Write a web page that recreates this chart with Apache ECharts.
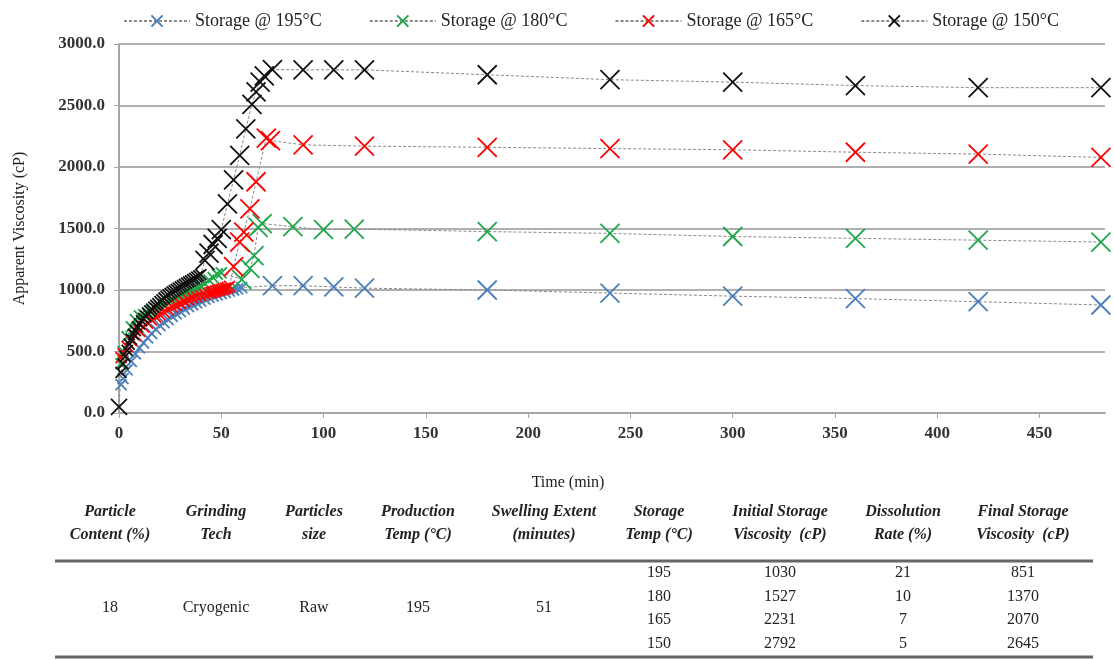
<!DOCTYPE html>
<html>
<head>
<meta charset="utf-8">
<script src="https://cdn.jsdelivr.net/npm/echarts@6/dist/echarts.min.js"></script>
<style>
  html, body { margin: 0; padding: 0; background: #fff; }
  #main { width: 1114px; height: 660px; }
</style>
</head>
<body>
<div id="main"></div>
<script>
// viscosity vs time, one pair of arrays per storage temperature
var t195 = [1,2,4,6,8,10,12,14,16,18,20,22,24,26,28,30,32,34,36,38,40,42,44,46,48,50,52,54,56,58,60,75,90,105,120,180,240,300,360,420,480];
var v195 = [230,280,350,420,480,530,570,610,645,680,710,735,760,785,805,825,845,865,880,895,910,925,940,950,960,970,980,990,1000,1010,1020,1035,1035,1025,1015,1000,975,950,930,905,878];

var t180 = [1,2,4,6,8,10,12,14,16,18,20,22,24,26,28,30,32,34,36,38,40,42,44,46,48,50,60,64,66,68,70,85,100,115,180,240,300,360,420,480];
var v180 = [400,500,620,700,760,790,800,815,830,850,865,885,900,915,930,950,965,980,995,1010,1030,1050,1080,1100,1130,1140,1085,1175,1280,1510,1540,1515,1490,1495,1475,1460,1435,1420,1405,1390];

var t165 = [1,2,4,6,8,10,12,14,16,18,20,22,24,26,28,30,32,34,36,38,40,42,44,45,46,47,48,49,50,51,52,53,54,56,59,61,64,67,72,74,90,120,180,240,300,360,420,480];
var v165 = [450,480,540,590,630,665,700,730,755,780,800,820,840,860,875,890,905,920,935,945,955,965,975,980,985,990,995,1000,1005,1010,1015,1020,1030,1190,1390,1470,1660,1880,2235,2215,2180,2170,2160,2150,2140,2120,2105,2078];

var t150 = [0,1,2,3,4,5,6,7,8,9,10,11,12,13,14,15,16,17,18,19,20,21,22,23,24,25,26,27,28,29,30,31,32,33,34,35,36,37,38,39,40,42,44,46,48,50,53,56,59,62,65,67,69,71,75,90,105,120,180,240,300,360,420,480];
var v150 = [50,330,400,460,510,560,600,640,670,700,725,750,770,790,810,830,845,860,875,890,905,920,935,948,960,972,985,995,1005,1015,1025,1035,1045,1055,1065,1075,1085,1095,1105,1115,1125,1240,1300,1370,1420,1490,1700,1895,2095,2310,2510,2610,2690,2740,2792,2790,2790,2790,2750,2710,2690,2662,2645,2645];

var seriesNames = ['Storage @ 195°C', 'Storage @ 180°C', 'Storage @ 165°C', 'Storage @ 150°C'];

// table under the chart
var headTop = ['Particle', 'Grinding', 'Particles', 'Production', 'Swelling Extent', 'Storage', 'Initial Storage', 'Dissolution', 'Final Storage'];
var headBottom = ['Content (%)', 'Tech', 'size', 'Temp (°C)', '(minutes)', 'Temp (°C)', 'Viscosity  (cP)', 'Rate (%)', 'Viscosity  (cP)'];
var fixedCells = ['18', 'Cryogenic', 'Raw', '195', '51'];
var storageTemp = ['195', '180', '165', '150'];
var initialVisc = ['1030', '1527', '2231', '2792'];
var dissolution = ['21', '10', '7', '5'];
var finalVisc = ['851', '1370', '2070', '2645'];

var colors = ['#4a7ebb', '#1fa64a', '#ff0000', '#111111'];
var bigFrom = [75, 60, 56, 42]; // time from which markers are drawn large
var xMark = 'path://M0,0L10,10M10,0L0,10';
var serif = '"Liberation Serif", "Times New Roman", serif';

function pairs(t, v) {
    var out = [];
    for (var i = 0; i < t.length; i++) out.push([t[i], v[i]]);
    return out;
}

var allT = [t195, t180, t165, t150];
var allV = [v195, v180, v165, v150];

var series = [];
for (var s = 0; s < 4; s++) {
    (function (s) {
        series.push({
            name: seriesNames[s],
            type: 'line',
            data: pairs(allT[s], allV[s]),
            symbol: xMark,
            symbolSize: function (val) {
                if (val[0] === 0) return 16;
                return val[0] >= bigFrom[s] ? 19 : 11;
            },
            itemStyle: { color: colors[s], borderColor: colors[s], borderWidth: 1.8 },
            lineStyle: { color: '#8a8a8a', width: 1, type: [3, 2] },
            z: 2 + s
        });
    })(s);
}

// table graphics
var cols = [110, 216, 314, 418, 544, 659, 780, 903, 1023];
var rowY = [573, 597, 620, 644];
var graphics = [];
var headFont = 'italic bold 16px ' + serif;
var cellFont = '16px ' + serif;
function txt(str, x, y, font) {
    graphics.push({
        type: 'text',
        style: { text: str, x: x, y: y, align: 'center', verticalAlign: 'middle', font: font, fill: '#222' },
        silent: true
    });
}
for (var c = 0; c < cols.length; c++) {
    txt(headTop[c], cols[c], 512, headFont);
    txt(headBottom[c], cols[c], 535, headFont);
}
for (var c = 0; c < fixedCells.length; c++) {
    txt(fixedCells[c], cols[c], 608, cellFont);
}
for (var r = 0; r < 4; r++) {
    txt(storageTemp[r], cols[5], rowY[r], cellFont);
    txt(initialVisc[r], cols[6], rowY[r], cellFont);
    txt(dissolution[r], cols[7], rowY[r], cellFont);
    txt(finalVisc[r], cols[8], rowY[r], cellFont);
}
graphics.push({ type: 'line', shape: { x1: 55, y1: 561, x2: 1093, y2: 561 }, style: { stroke: '#666', lineWidth: 3 }, silent: true });
graphics.push({ type: 'line', shape: { x1: 55, y1: 657, x2: 1093, y2: 657 }, style: { stroke: '#666', lineWidth: 3 }, silent: true });

var chart = echarts.init(document.getElementById('main'));
chart.setOption({
    animation: false,
    backgroundColor: '#fff',
    textStyle: { fontFamily: serif },
    legend: {
        data: seriesNames,
        left: 118,
        top: 7,
        itemWidth: 66,
        itemHeight: 14,
        itemGap: 47,
        textStyle: { fontFamily: serif, fontSize: 18, color: '#222' }
    },
    grid: { left: 119, right: 9, top: 44, bottom: 247, containLabel: false },
    xAxis: {
        type: 'value',
        min: 0,
        max: 482,
        interval: 50,
        name: 'Time (min)',
        nameLocation: 'middle',
        nameGap: 62,
        nameTextStyle: { fontFamily: serif, fontSize: 16, color: '#222', padding: [0, 88, 0, 0] },
        axisLine: { show: true, lineStyle: { color: '#a6a6a6', width: 2 } },
        axisTick: { show: true, length: 5, lineStyle: { color: '#a6a6a6' } },
        axisLabel: { showMaxLabel: false, margin: 12, fontFamily: serif, fontSize: 17, fontWeight: 'bold', color: '#333' },
        splitLine: { show: false }
    },
    yAxis: {
        type: 'value',
        min: 0,
        max: 3000,
        interval: 500,
        name: 'Apparent Viscosity (cP)',
        nameLocation: 'middle',
        nameGap: 91,
        nameTextStyle: { fontFamily: serif, fontSize: 16, color: '#222' },
        axisLine: { show: true, lineStyle: { color: '#a6a6a6', width: 2 } },
        axisTick: { show: true, length: 5, lineStyle: { color: '#a6a6a6' } },
        axisLabel: {
            margin: 14,
            fontFamily: serif,
            fontSize: 17,
            fontWeight: 'bold',
            color: '#333',
            formatter: function (v) { return v.toFixed(1); }
        },
        splitLine: { show: true, lineStyle: { color: '#b0b0b0', width: 2 } }
    },
    series: series,
    graphic: graphics
});
</script>
</body>
</html>
